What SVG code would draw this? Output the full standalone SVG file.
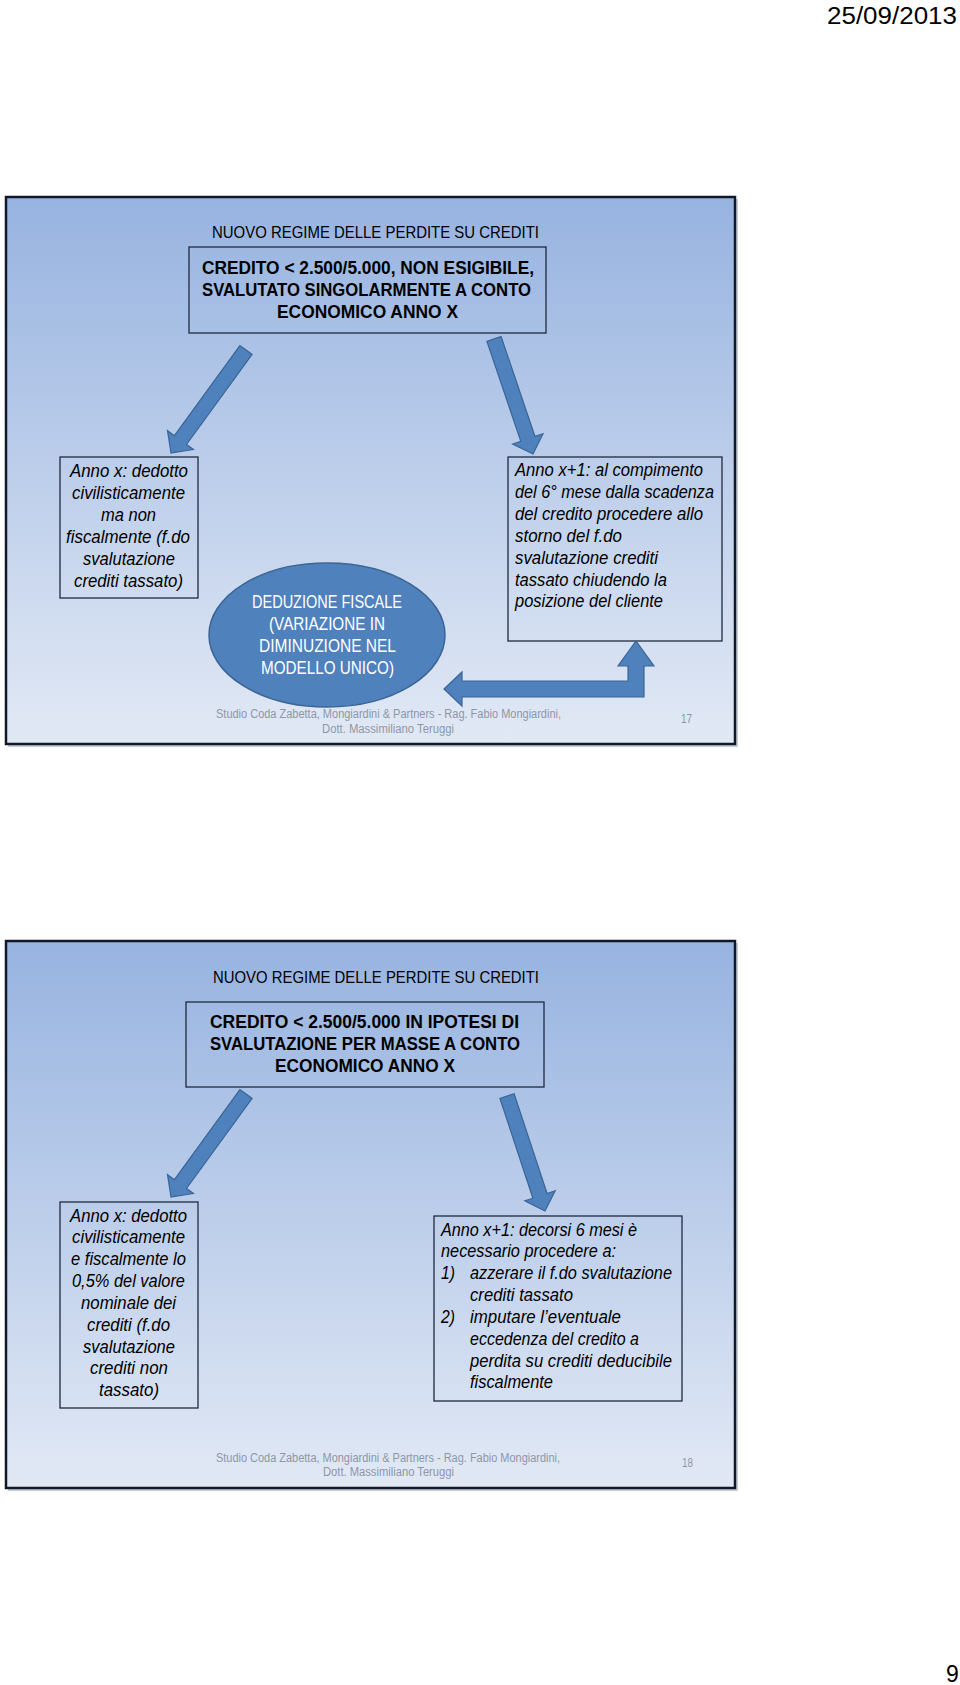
<svg xmlns="http://www.w3.org/2000/svg" width="960" height="1685" viewBox="0 0 960 1685">
<defs>
<linearGradient id="bg" x1="0" y1="0" x2="0" y2="1">
<stop offset="0" stop-color="#97B3E0"/>
<stop offset="1" stop-color="#E2E9F5"/>
</linearGradient>
</defs>
<style>
text{font-family:"Liberation Sans",Arial,sans-serif;fill:#000}
.slide{fill:url(#bg);stroke:#111827;stroke-width:2.5}
.shadow{fill:#c8cdd6}
.box{fill:none;stroke:#1f2a40;stroke-width:1.3}
.ttl{font-size:16.5px}
.hb{font-size:19px;font-weight:bold}
.it{font-size:17.5px;font-style:italic}
.el{font-size:18px;fill:#fff}
.ft{font-size:12.5px;fill:#8d97a8}
.arr{fill:#4F81BD;stroke:#3A6595;stroke-width:1.2}
</style>
<text x="827" y="24" font-size="23" textLength="130" lengthAdjust="spacingAndGlyphs">25/09/2013</text>
<g id="slide17">
<rect class="shadow" x="8" y="199" width="730" height="548"/>
<rect class="slide" x="6" y="197" width="729" height="547"/>
<text class="ttl" x="212" y="238" textLength="327" lengthAdjust="spacingAndGlyphs">NUOVO REGIME DELLE PERDITE SU CREDITI</text>
<text class="ft" x="216" y="718" textLength="345" lengthAdjust="spacingAndGlyphs">Studio Coda Zabetta, Mongiardini &amp; Partners - Rag. Fabio Mongiardini,</text>
<text class="ft" x="322" y="733" textLength="132" lengthAdjust="spacingAndGlyphs">Dott. Massimiliano Teruggi</text>
<text class="ft" x="681" y="723" textLength="11" lengthAdjust="spacingAndGlyphs">17</text>
</g>
<g id="n1-top">
<rect class="box" x="189" y="247" width="357" height="86"/>
<text class="hb" x="202" y="274" textLength="332" lengthAdjust="spacingAndGlyphs">CREDITO &lt; 2.500/5.000, NON ESIGIBILE,</text>
<text class="hb" x="202" y="296" textLength="329" lengthAdjust="spacingAndGlyphs">SVALUTATO SINGOLARMENTE A CONTO</text>
<text class="hb" x="277" y="318" textLength="181" lengthAdjust="spacingAndGlyphs">ECONOMICO ANNO X</text>
</g>
<g id="n1-left">
<rect class="box" x="60" y="457" width="138" height="141"/>
<text class="it" x="70" y="477" textLength="118" lengthAdjust="spacingAndGlyphs">Anno x: dedotto</text>
<text class="it" x="72" y="499" textLength="113" lengthAdjust="spacingAndGlyphs">civilisticamente</text>
<text class="it" x="101" y="521" textLength="55" lengthAdjust="spacingAndGlyphs">ma non</text>
<text class="it" x="66" y="543" textLength="124" lengthAdjust="spacingAndGlyphs">fiscalmente (f.do</text>
<text class="it" x="83" y="565" textLength="92" lengthAdjust="spacingAndGlyphs">svalutazione</text>
<text class="it" x="74" y="587" textLength="109" lengthAdjust="spacingAndGlyphs">crediti tassato)</text>
</g>
<g id="n1-right">
<rect class="box" x="508" y="457" width="214" height="184"/>
<text class="it" x="515" y="476" textLength="188" lengthAdjust="spacingAndGlyphs">Anno x+1: al compimento</text>
<text class="it" x="515" y="498" textLength="199" lengthAdjust="spacingAndGlyphs">del 6° mese dalla scadenza</text>
<text class="it" x="515" y="520" textLength="188" lengthAdjust="spacingAndGlyphs">del credito procedere allo</text>
<text class="it" x="515" y="542" textLength="107" lengthAdjust="spacingAndGlyphs">storno del f.do</text>
<text class="it" x="515" y="564" textLength="143" lengthAdjust="spacingAndGlyphs">svalutazione crediti</text>
<text class="it" x="515" y="586" textLength="152" lengthAdjust="spacingAndGlyphs">tassato chiudendo la</text>
<text class="it" x="515" y="607" textLength="148" lengthAdjust="spacingAndGlyphs">posizione del cliente</text>
</g>
<g id="n1-ellipse">
<ellipse cx="327" cy="635" rx="118" ry="72" fill="#4F81BD" stroke="#3A6595" stroke-width="1.5"/>
<text class="el" x="252" y="608" textLength="150" lengthAdjust="spacingAndGlyphs">DEDUZIONE FISCALE</text>
<text class="el" x="269" y="630" textLength="116" lengthAdjust="spacingAndGlyphs">(VARIAZIONE IN</text>
<text class="el" x="259" y="652" textLength="137" lengthAdjust="spacingAndGlyphs">DIMINUZIONE NEL</text>
<text class="el" x="261" y="674" textLength="133" lengthAdjust="spacingAndGlyphs">MODELLO UNICO)</text>
</g>
<g id="slide18">
<rect class="shadow" x="8" y="943" width="730" height="548"/>
<rect class="slide" x="6" y="941" width="729" height="547"/>
<text class="ttl" x="213" y="983" textLength="326" lengthAdjust="spacingAndGlyphs">NUOVO REGIME DELLE PERDITE SU CREDITI</text>
<text class="ft" x="216" y="1462" textLength="344" lengthAdjust="spacingAndGlyphs">Studio Coda Zabetta, Mongiardini &amp; Partners - Rag. Fabio Mongiardini,</text>
<text class="ft" x="323" y="1476" textLength="131" lengthAdjust="spacingAndGlyphs">Dott. Massimiliano Teruggi</text>
<text class="ft" x="682" y="1467" textLength="11" lengthAdjust="spacingAndGlyphs">18</text>
</g>
<g id="n2-top">
<rect class="box" x="186" y="1002" width="358" height="85"/>
<text class="hb" x="210" y="1028" textLength="309" lengthAdjust="spacingAndGlyphs">CREDITO &lt; 2.500/5.000 IN IPOTESI DI</text>
<text class="hb" x="210" y="1050" textLength="310" lengthAdjust="spacingAndGlyphs">SVALUTAZIONE PER MASSE A CONTO</text>
<text class="hb" x="275" y="1072" textLength="180" lengthAdjust="spacingAndGlyphs">ECONOMICO ANNO X</text>
</g>
<g id="n2-left">
<rect class="box" x="60" y="1202" width="138" height="206"/>
<text class="it" x="70" y="1222" textLength="117" lengthAdjust="spacingAndGlyphs">Anno x: dedotto</text>
<text class="it" x="72" y="1243" textLength="113" lengthAdjust="spacingAndGlyphs">civilisticamente</text>
<text class="it" x="71" y="1265" textLength="115" lengthAdjust="spacingAndGlyphs">e fiscalmente lo</text>
<text class="it" x="72" y="1287" textLength="113" lengthAdjust="spacingAndGlyphs">0,5% del valore</text>
<text class="it" x="81" y="1309" textLength="95" lengthAdjust="spacingAndGlyphs">nominale dei</text>
<text class="it" x="87" y="1331" textLength="83" lengthAdjust="spacingAndGlyphs">crediti (f.do</text>
<text class="it" x="83" y="1353" textLength="92" lengthAdjust="spacingAndGlyphs">svalutazione</text>
<text class="it" x="90" y="1374" textLength="78" lengthAdjust="spacingAndGlyphs">crediti non</text>
<text class="it" x="99" y="1396" textLength="60" lengthAdjust="spacingAndGlyphs">tassato)</text>
</g>
<g id="n2-right">
<rect class="box" x="434" y="1216" width="248" height="185"/>
<text class="it" x="441" y="1236" textLength="196" lengthAdjust="spacingAndGlyphs">Anno x+1: decorsi 6 mesi è</text>
<text class="it" x="441" y="1257" textLength="175" lengthAdjust="spacingAndGlyphs">necessario procedere a:</text>
<text class="it" x="441" y="1279" textLength="14" lengthAdjust="spacingAndGlyphs">1)</text>
<text class="it" x="470" y="1279" textLength="202" lengthAdjust="spacingAndGlyphs">azzerare il f.do svalutazione</text>
<text class="it" x="470" y="1301" textLength="103" lengthAdjust="spacingAndGlyphs">crediti tassato</text>
<text class="it" x="441" y="1323" textLength="14" lengthAdjust="spacingAndGlyphs">2)</text>
<text class="it" x="470" y="1323" textLength="151" lengthAdjust="spacingAndGlyphs">imputare l’eventuale</text>
<text class="it" x="470" y="1345" textLength="169" lengthAdjust="spacingAndGlyphs">eccedenza del credito a</text>
<text class="it" x="470" y="1367" textLength="202" lengthAdjust="spacingAndGlyphs">perdita su crediti deducibile</text>
<text class="it" x="470" y="1388" textLength="83" lengthAdjust="spacingAndGlyphs">fiscalmente</text>
</g>
<g id="connectors">
<polygon class="arr" points="239.9,345.6 174.4,435.7 167.5,430.7 171,453 193.4,449.5 186.5,444.5 252.1,354.4"/>
<polygon class="arr" points="486.9,341.4 520.8,441.3 512.7,444 533,454 543,433.7 535,436.4 501.1,336.6"/>
<path class="arr" d="M444,689 L462,672 L462,681 L628,681 L628,666 L618,666 L636,641 L654,666 L644,666 L644,697 L462,697 L462,706 Z"/>
<polygon class="arr" points="239.9,1089.6 174.4,1179.7 167.5,1174.7 171,1197 193.4,1193.5 186.5,1188.5 252.1,1098.4"/>
<polygon class="arr" points="499.9,1098.4 532.9,1198.2 524.8,1200.8 545,1211 555.2,1190.8 547.1,1193.5 514.1,1093.7"/>
</g>
<text x="946" y="1682" font-size="23">9</text>
</svg>
